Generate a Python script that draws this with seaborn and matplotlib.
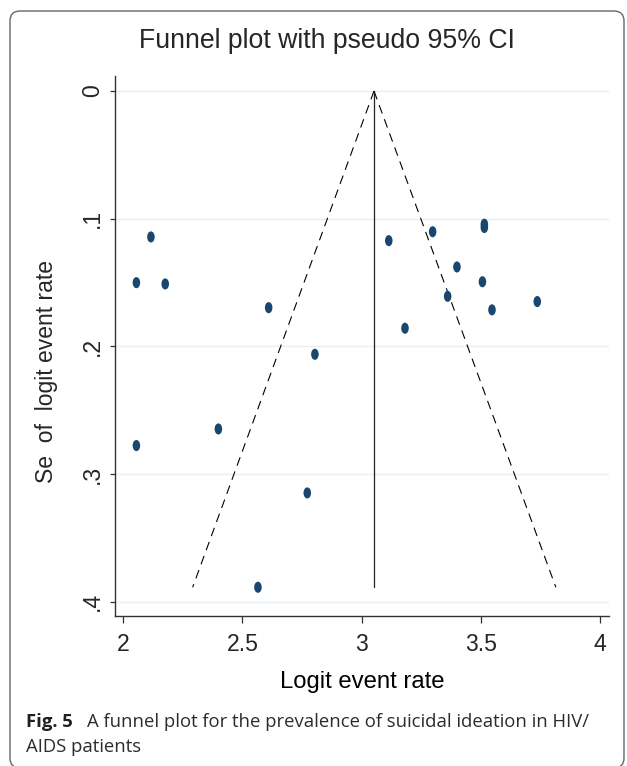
import numpy as np
import pandas as pd
import matplotlib
matplotlib.use("Agg")
import matplotlib.pyplot as plt
import seaborn as sns
from matplotlib.path import Path
from matplotlib.markers import MarkerStyle
from matplotlib.patches import FancyBboxPatch
from matplotlib.transforms import IdentityTransform

# ---- data ----
logit_rate = [2.116, 2.055, 2.176, 2.610, 2.804, 3.114, 3.298, 3.515, 3.515,
              3.400, 3.507, 3.361, 3.547, 3.737, 3.182, 2.055, 2.399, 2.772, 2.565]
se_logit = [0.1143, 0.1501, 0.1511, 0.1697, 0.2062, 0.1172, 0.1102, 0.1043, 0.1069,
            0.1378, 0.1494, 0.1608, 0.1714, 0.1649, 0.1858, 0.2777, 0.2647, 0.3148, 0.3887]

funnel_se = [0.0, 0.3887]
funnel_lower = [3.052, 2.291]
funnel_upper = [3.052, 3.815]
pooled = [3.052, 3.052]

x_ticks = [2, 2.5, 3, 3.5, 4]
x_ticklabels = ["2", "2.5", "3", "3.5", "4"]
y_ticks = [0, 0.1, 0.2, 0.3, 0.4]
y_ticklabels = ["0", ".1", ".2", ".3", ".4"]

title = "Funnel plot with pseudo 95% CI"
xlabel = "Logit event rate"
ylabel = "Se  of  logit event rate"
cap_bold = "Fig. 5"
cap_line1 = "A funnel plot for the prevalence of suicidal ideation in HIV/"
cap_line2 = "AIDS patients"

df = pd.DataFrame({"x": logit_rate, "se": se_logit})

sns.set_theme(style="white")
plt.rcParams["font.family"] = ["Liberation Sans", "DejaVu Sans"]

W, H = 627, 766
fig = plt.figure(figsize=(W / 100, H / 100), dpi=100)
fig.patch.set_facecolor("white")

# axes placement (pixels from top-left)
left_px, right_px, top_px, bottom_px = 114.7, 609.0, 75.7, 616.0
ax = fig.add_axes([left_px / W, 1 - bottom_px / H,
                   (right_px - left_px) / W, (bottom_px - top_px) / H])
ax.set_facecolor("white")

# gridlines
for yt in y_ticks:
    ax.axhline(yt, color="#e6eff1", lw=1.0, zorder=0)

# funnel lines
sns.lineplot(x=funnel_lower, y=funnel_se, sort=False, estimator=None, ax=ax,
             color="black", lw=0.8)
ax.lines[-1].set_linestyle((0, (8, 5.5)))
sns.lineplot(x=funnel_upper, y=funnel_se, sort=False, estimator=None, ax=ax,
             color="black", lw=0.8)
ax.lines[-1].set_linestyle((0, (8, 5.5)))
sns.lineplot(x=pooled, y=funnel_se, sort=False, estimator=None, ax=ax,
             color="#222222", lw=0.9)

# ellipse marker
circ = Path.unit_circle()
ell = Path(circ.vertices * np.array([0.68, 1.0]), circ.codes)
sns.scatterplot(data=df, x="x", y="se", ax=ax, marker=MarkerStyle(ell), s=64,
                color="#1a476f", edgecolor="none", linewidth=0, zorder=5, legend=False)

ax.set_xlim(1.964, 4.038)
ax.set_ylim(0.4112, -0.012)
ax.set_xticks(x_ticks)
ax.set_xticklabels(x_ticklabels, fontsize=16.6)
ax.set_yticks(y_ticks)
ax.set_yticklabels(y_ticklabels, fontsize=16.6, rotation=90, va="center")
ax.tick_params(axis="x", direction="out", length=5, width=0.9, color="#333333",
               pad=7, bottom=True)
ax.tick_params(axis="y", direction="out", length=3.8, width=0.9, color="#333333",
               pad=4, left=True)
for s in ["top", "right"]:
    ax.spines[s].set_visible(False)
for s in ["left", "bottom"]:
    ax.spines[s].set_color("#333333")
    ax.spines[s].set_linewidth(1.0)

ax.set_xlabel(xlabel, fontsize=17.2, labelpad=11, color="black")
ax.set_ylabel("")
fig.text(46.5 / W, 1 - 371.5 / H, ylabel, rotation=90, fontsize=16.5,
         ha="center", va="center")

fig.text(326.5 / W, 1 - 48 / H, title, fontsize=19.2, ha="center", va="baseline")

# caption
capfont = ["Open Sans", "DejaVu Sans"]
fig.text(26 / W, 1 - 727 / H, cap_bold, fontsize=13.3, fontweight="bold",
         family=capfont, ha="left", va="baseline", color="#231f20")
fig.text(87 / W, 1 - 727 / H, cap_line1, fontsize=13.3, family=capfont,
         ha="left", va="baseline", color="#2f2b2c")
fig.text(26 / W, 1 - 752 / H, cap_line2, fontsize=13.3, family=capfont,
         ha="left", va="baseline", color="#2f2b2c")

# rounded frame
frame = FancyBboxPatch((10, H - 768), 614, 757,
                       boxstyle="round,pad=0,rounding_size=10",
                       transform=IdentityTransform(), fill=False,
                       edgecolor="#666666", lw=1.0)
fig.patches.append(frame)

fig.savefig("out.png", dpi=100, facecolor="white")
